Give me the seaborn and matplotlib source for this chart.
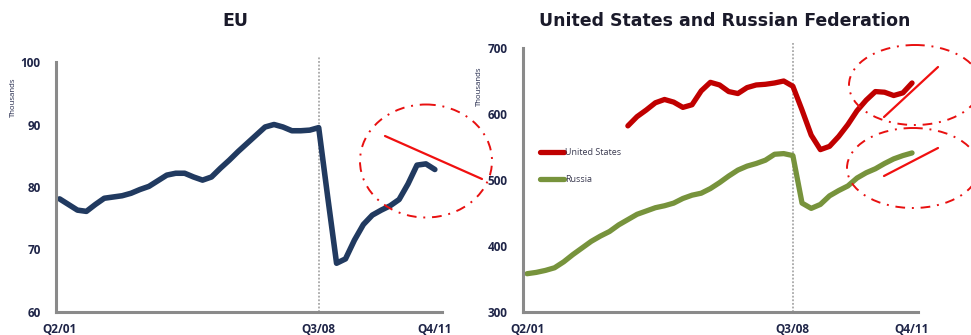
import matplotlib
matplotlib.use("Agg")
import matplotlib.pyplot as plt
from matplotlib.patches import Ellipse
import seaborn as sns
import pandas as pd
import numpy as np

# ---------------- data ----------------
quarters = [f"Q{q}/{y:02d}" for y in range(1, 12) for q in range(1, 5)][1:]  # Q2/01 .. Q4/11
tick_labels = ["Q2/01", "Q3/08", "Q4/11"]

eu_values = [78.1, 77.2, 76.3, 76.1, 77.2, 78.2, 78.4, 78.6, 79.0, 79.6,
             80.1, 81.0, 81.9, 82.2, 82.2, 81.6, 81.1, 81.6, 83.0, 84.3,
             85.7, 87.0, 88.3, 89.6, 90.0, 89.6, 89.0, 89.0, 89.1, 89.5,
             78.5, 67.8, 68.5, 71.5, 74.0, 75.5, 76.3, 77.0, 78.0, 80.5,
             83.5, 83.7, 82.8]

us_start = "Q1/04"
us_values = [582, 596, 606, 617, 622, 618, 610, 614, 635, 648,
             644, 634, 631, 640, 644, 645, 647, 650, 642, 606,
             568, 546, 551, 566, 584, 605, 621, 634, 633, 628,
             632, 647]

russia_values = [358, 360, 363, 367, 376, 387, 397, 407, 415, 422,
                 432, 440, 448, 453, 458, 461, 465, 472, 477, 480,
                 487, 496, 506, 515, 521, 525, 530, 539, 540, 537,
                 465, 457, 463, 476, 484, 491, 503, 511, 517, 525,
                 532, 537, 541]

eu_yticks = [60, 70, 80, 90, 100]
us_yticks = [300, 400, 500, 600, 700]
crisis_quarter = "Q3/08"

# --------------- frames ---------------
idx = list(range(len(quarters)))
us_i0 = quarters.index(us_start)
eu_df = pd.DataFrame({"x": idx, "value": eu_values})
us_df = pd.DataFrame({"x": idx[us_i0:us_i0 + len(us_values)], "value": us_values})
ru_df = pd.DataFrame({"x": idx, "value": russia_values})
tick_pos = [quarters.index(t) for t in tick_labels]
crisis_x = quarters.index(crisis_quarter)

# --------------- style ---------------
sns.set_theme(style="white")
plt.rcParams["font.family"] = ["DejaVu Sans"]

W, H = 971, 335
fig = plt.figure(figsize=(W / 100, H / 100), dpi=100)

def fax(x0, x1, ytop, ybot):
    return [x0 / W, 1 - ybot / H, (x1 - x0) / W, (ybot - ytop) / H]

ax1 = fig.add_axes(fax(56, 442, 62, 312))
ax2 = fig.add_axes(fax(523, 918, 48, 312))

NAVY = "#213a60"
RED = "#c00000"
GREEN = "#77933c"
SPINE = "#8a8a8a"
TXT = "#1f2548"

sns.lineplot(data=eu_df, x="x", y="value", ax=ax1, color=NAVY, lw=4.0,
             solid_capstyle="round", solid_joinstyle="round")
sns.lineplot(data=us_df, x="x", y="value", ax=ax2, color=RED, lw=3.8,
             solid_capstyle="round", solid_joinstyle="round", label="United States")
sns.lineplot(data=ru_df, x="x", y="value", ax=ax2, color=GREEN, lw=3.8,
             solid_capstyle="round", solid_joinstyle="round", label="Russia")

tick_font = dict(family="Open Sans", weight="bold", size=8.5)

for ax, lims, ticks, xl in [(ax1, (60, 100), eu_yticks, (-0.4, 42.8)),
                            (ax2, (300, 700), us_yticks, (-0.44, 42.65))]:
    ax.set_ylim(*lims)
    ax.set_xlim(*xl)
    ax.set_yticks(ticks)
    ax.set_yticklabels([str(t) for t in ticks], fontdict=tick_font, color=TXT)
    ax.set_xticks(tick_pos)
    ax.set_xticklabels(tick_labels, fontdict=tick_font, color=TXT)
    ax.tick_params(axis="both", length=0)
    ax.tick_params(axis="y", pad=11)
    ax.tick_params(axis="x", pad=8)
    ax.set_xlabel("")
    ax.set_ylabel("")
    for s in ["top", "right"]:
        ax.spines[s].set_visible(False)
    for s in ["left", "bottom"]:
        ax.spines[s].set_color(SPINE)
        ax.spines[s].set_linewidth(2.2)
    ax.patch.set_alpha(0)
    ax.axvline(crisis_x, ymin=0, ymax=1.02, color="#a8a8a8", lw=1.3,
               ls=(0, (1, 1)), clip_on=False, zorder=1)

fig.text(235 / W, 1 - 21 / H, "EU", ha="center", va="center",
         fontsize=12.5, fontweight="bold", color="#1a1a2a")
fig.text(725 / W, 1 - 21 / H, "United States and Russian Federation", ha="center",
         va="center", fontsize=12.5, fontweight="bold", color="#1a1a2a")

leg = ax2.legend(loc="upper left", bbox_to_anchor=(0.035, 0.635), frameon=False,
                 prop=dict(family="Open Sans", size=6.5), handlelength=2.6,
                 handletextpad=0.1, labelspacing=2.0, borderaxespad=0)
for t in leg.get_texts():
    t.set_color("#3a3a50")

fig.text(13 / W, 1 - 97 / H, "Thousands", rotation=90, ha="center", va="center",
         fontsize=5.6, color=TXT, family="Open Sans")
fig.text(479 / W, 1 - 86 / H, "Thousands", rotation=90, ha="center", va="center",
         fontsize=5.6, color=TXT, family="Open Sans")

# --------------- annotations (pixel overlay) ---------------
ov = fig.add_axes([0, 0, 1, 1], zorder=10)
ov.set_xlim(0, W)
ov.set_ylim(H, 0)
ov.axis("off")
ov.patch.set_alpha(0)
dd = (0, (5, 3.5, 1, 3.5))
for cx, cy, w, h in [(426, 161, 132, 113), (915, 85, 132, 80), (913, 168, 132, 80)]:
    ov.add_patch(Ellipse((cx, cy), w, h, fill=False, ec="#e81010", lw=1.4, ls=dd))
for (x0, y0), (x1, y1) in [((385, 136), (482, 179)), ((884, 117), (938, 67)),
                           ((884, 176), (938, 148))]:
    ov.plot([x0, x1], [y0, y1], color="#f01010", lw=1.6)

fig.savefig("out.png", dpi=100)
